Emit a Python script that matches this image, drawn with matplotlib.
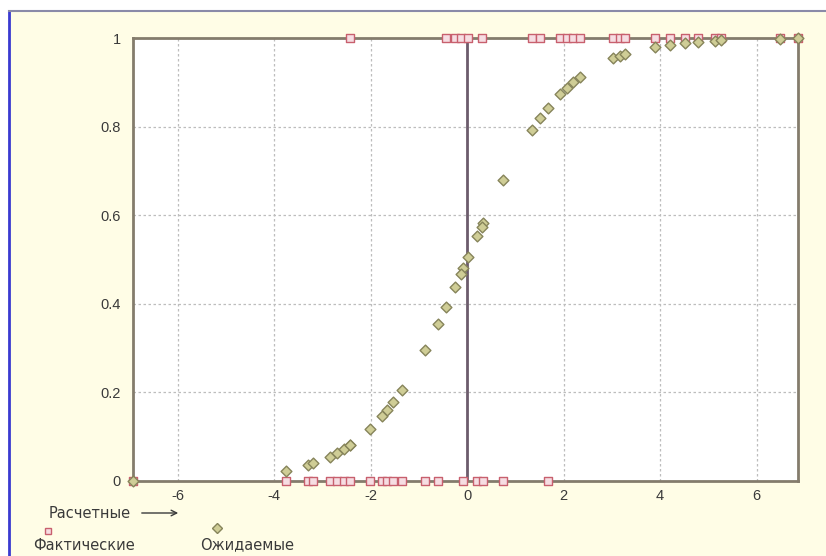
import matplotlib
matplotlib.use("Agg")
import matplotlib.pyplot as plt
from matplotlib.patches import Rectangle, FancyArrowPatch
from matplotlib.lines import Line2D

plt.rcParams['font.family'] = ['Liberation Sans', 'DejaVu Sans']
plt.rcParams['axes.unicode_minus'] = False

# Observed outcomes (0/1) against the computed score
score_0 = [-6.93, -3.76, -3.30, -3.19, -2.84, -2.69, -2.55, -2.42, -2.01, -1.77,
           -1.66, -1.53, -1.35, -0.87, -0.60, -0.08, 0.21, 0.33, 0.75, 1.68]
score_1 = [-2.42, -0.44, -0.25, -0.13, 0.02, 0.30, 1.34, 1.51, 1.93, 2.06, 2.20,
           2.34, 3.03, 3.17, 3.27, 3.89, 4.20, 4.51, 4.79, 5.13, 5.27, 6.48, 6.86]

# Expected probability at each score
expected_0 = [0.001, 0.023, 0.036, 0.040, 0.055, 0.064, 0.072, 0.082, 0.118, 0.146,
              0.160, 0.178, 0.206, 0.295, 0.354, 0.480, 0.552, 0.582, 0.679, 0.843]
expected_1 = [0.082, 0.392, 0.438, 0.468, 0.505, 0.574, 0.792, 0.819, 0.873, 0.887,
              0.900, 0.912, 0.954, 0.960, 0.963, 0.980, 0.985, 0.989, 0.992, 0.994,
              0.995, 0.998, 0.999]

x_ticks = [-6, -4, -2, 0, 2, 4, 6]
y_ticks = [0, 0.2, 0.4, 0.6, 0.8, 1]
y_tick_labels = ["0", "0.2", "0.4", "0.6", "0.8", "1"]

BG = "#fffde6"
FRAME = "#847c6c"
TEXT = "#3a3a3a"
SQ_EDGE = "#c8606e"
SQ_FACE = "#f6dde2"
DM_EDGE = "#86845a"
DM_FACE = "#cfcd96"
CAPTION_FONT = ['DejaVu Sans']

fig = plt.figure(figsize=(8.26, 5.56), dpi=100)
fig.patch.set_facecolor("white")

# panel background with window-style border
fig.patches.append(Rectangle((9 / 826, 0), 1, 1 - 11 / 556, transform=fig.transFigure,
                             facecolor=BG, edgecolor="none", zorder=-10))
fig.lines.append(Line2D([9 / 826, 9 / 826], [0, 1 - 11 / 556], transform=fig.transFigure,
                        color="#3a3ad0", lw=2))
fig.lines.append(Line2D([9 / 826, 1], [1 - 11 / 556, 1 - 11 / 556], transform=fig.transFigure,
                        color="#8a8aa8", lw=1.5))

ax = fig.add_axes([133 / 826, 1 - 481 / 556, (798 - 133) / 826, (481 - 38) / 556])
ax.set_facecolor("white")
xs_all = score_0 + score_1
ax.set_xlim(min(xs_all), max(xs_all))
ax.set_ylim(0, 1)

for sp in ax.spines.values():
    sp.set_color(FRAME)
    sp.set_linewidth(2)

ax.set_xticks(x_ticks)
ax.set_yticks(y_ticks)
ax.set_yticklabels(y_tick_labels)
ax.tick_params(length=0, colors=TEXT, labelsize=10.5, pad=9)
ax.tick_params(axis="x", pad=6)
ax.grid(True, color="#bdbdbd", linestyle=(0, (2, 2)), linewidth=0.9)
ax.set_axisbelow(True)

ax.axvline(0, color="#6c5c6c", lw=2, zorder=2)

# expected (diamonds) and observed (squares)
ax.scatter(score_0 + score_1, expected_0 + expected_1, marker="D", s=30,
           facecolor=DM_FACE, edgecolor=DM_EDGE, linewidth=1, zorder=4, clip_on=False)
ax.scatter(score_0, [0] * len(score_0), marker="s", s=32, facecolor=SQ_FACE,
           edgecolor=SQ_EDGE, linewidth=1, zorder=3, clip_on=False)
ax.scatter(score_1, [1] * len(score_1), marker="s", s=32, facecolor=SQ_FACE,
           edgecolor=SQ_EDGE, linewidth=1, zorder=3, clip_on=False)

# captions below the plot
fig.text(49 / 826, 1 - 513 / 556, "Расчетные", fontsize=10.5, color=TEXT, va="center",
         family=CAPTION_FONT)
fig.add_artist(FancyArrowPatch(
    (139 / 826, 1 - 513 / 556), (181 / 826, 1 - 513 / 556), transform=fig.transFigure,
    arrowstyle="->", mutation_scale=10, color=TEXT, lw=1))

fig.text(33 / 826, 1 - 545 / 556, "Фактические", fontsize=10.5, color=TEXT, va="center",
         family=CAPTION_FONT)
fig.text(200 / 826, 1 - 545 / 556, "Ожидаемые", fontsize=10.5, color=TEXT, va="center",
         family=CAPTION_FONT)
fig.lines.append(Line2D([48 / 826], [1 - 531 / 556], transform=fig.transFigure,
                        marker="s", markersize=5, markerfacecolor=SQ_FACE,
                        markeredgecolor=SQ_EDGE, linestyle="none"))
fig.lines.append(Line2D([217 / 826], [1 - 528 / 556], transform=fig.transFigure,
                        marker="D", markersize=5, markerfacecolor=DM_FACE,
                        markeredgecolor=DM_EDGE, linestyle="none"))

fig.savefig("out.png", dpi=100, facecolor=fig.get_facecolor())
